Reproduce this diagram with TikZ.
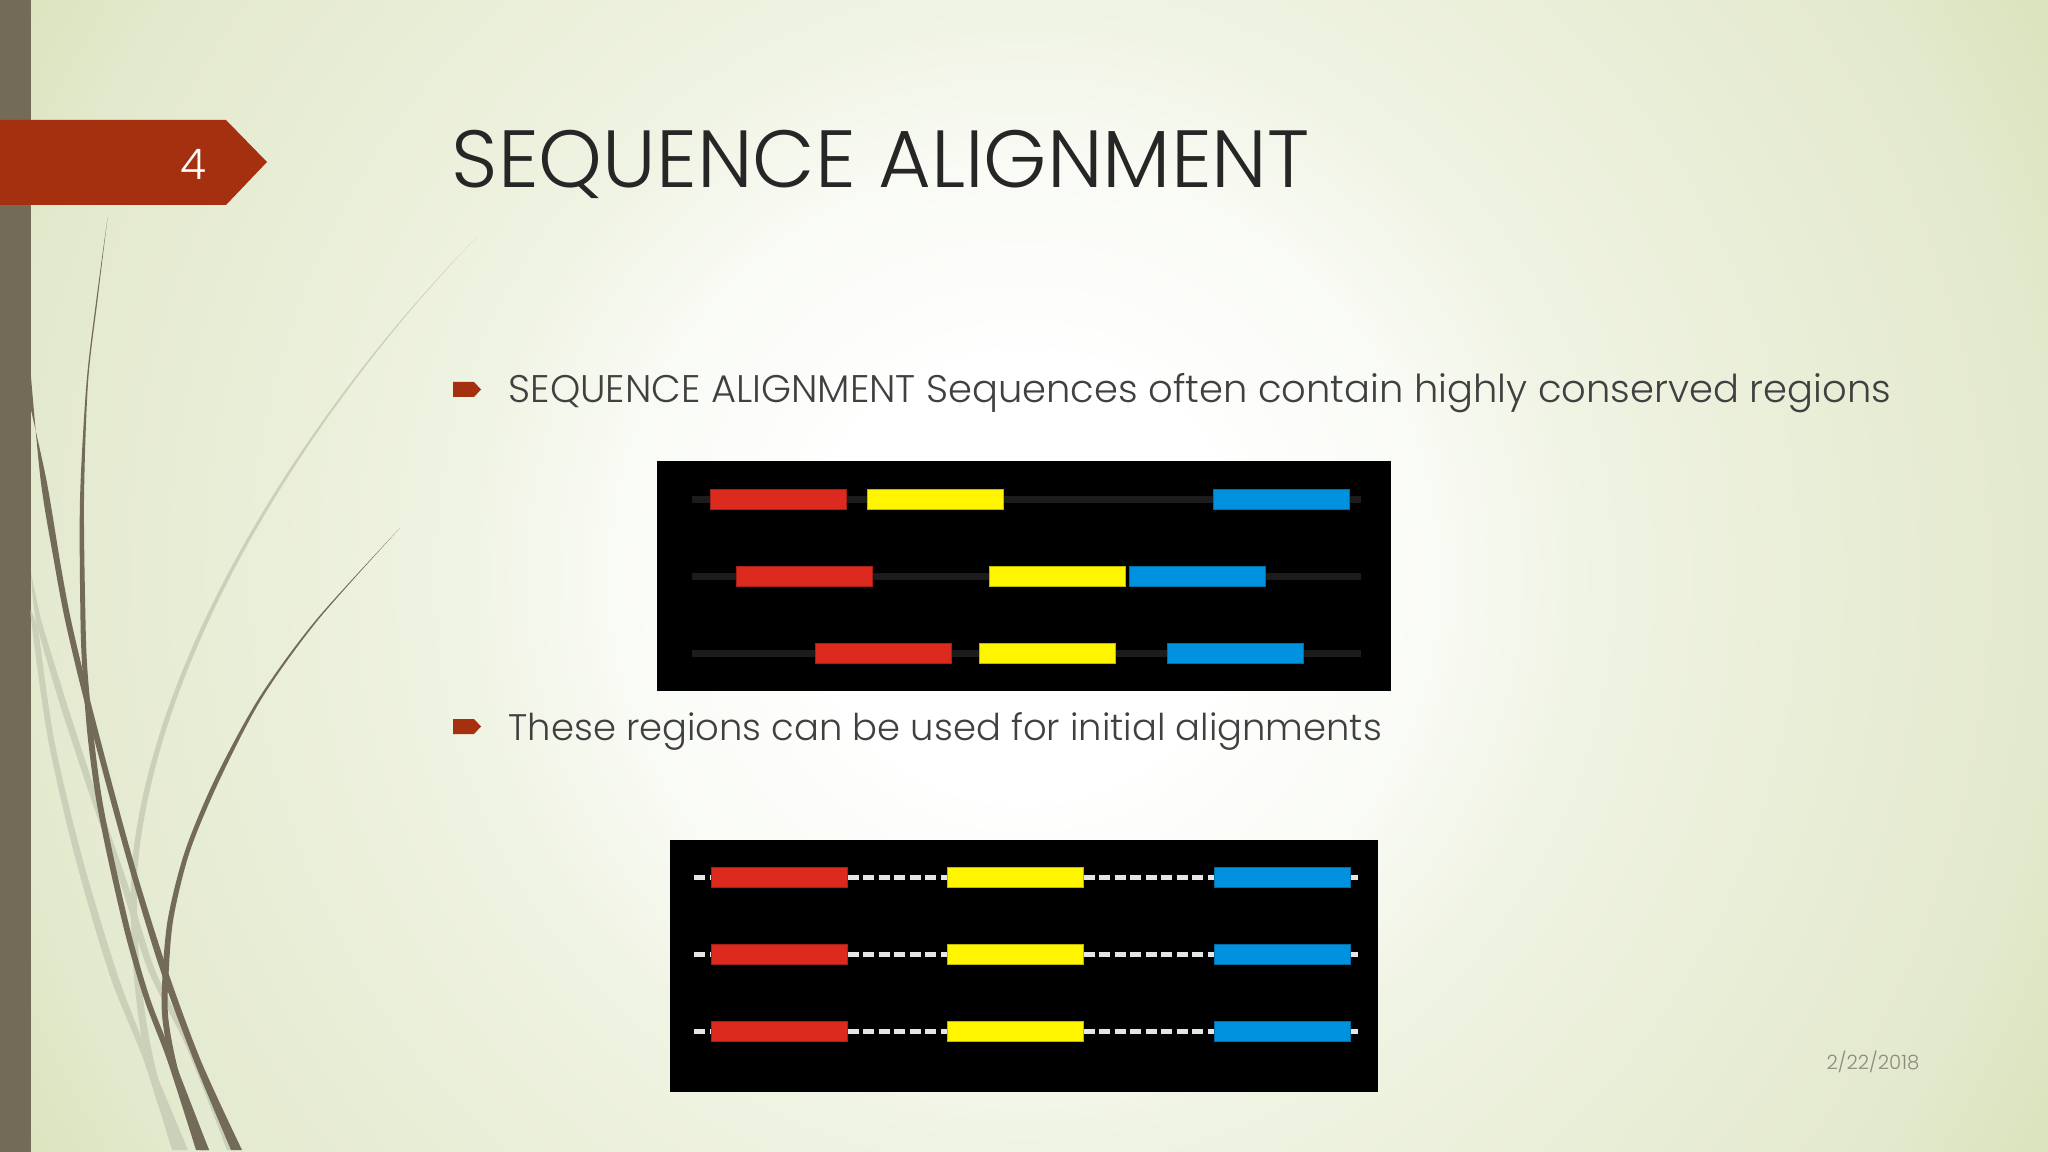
\documentclass[tikz,border=0pt]{standalone}
\usepackage{fontspec}
\setmainfont{Poppins}[UprightFont=* Light]
\definecolor{bgone}{HTML}{F9FBF5}
\definecolor{bgmid}{HTML}{EFF3E2}
\definecolor{bgedge}{HTML}{E3E9CD}
\definecolor{bgcorner}{HTML}{D9E2BA}
\definecolor{tagred}{HTML}{A5300F}
\definecolor{stemdark}{HTML}{736B58}
\definecolor{stemlight}{HTML}{CBD0B8}
\definecolor{barred}{HTML}{DC2A1E}
\definecolor{baryellow}{HTML}{FFF500}
\definecolor{barblue}{HTML}{0092DE}
\definecolor{datetext}{HTML}{8B8B78}
\pgfdeclareradialshading{slidebg}{\pgfpoint{0bp}{0bp}}{color(0bp)=(white); color(5bp)=(white); color(10bp)=(bgone); color(14bp)=(bgmid); color(25bp)=(bgedge); color(29bp)=(bgcorner); color(50bp)=(bgcorner)}
\tikzset{
	bar/.style={draw=#1!75!black,line width=0.3pt,fill=#1,minimum width=1.36cm,minimum height=0.2cm,inner sep=0pt,anchor=west},
	darkline/.style={line width=0.065cm,draw=black!89!white},
	dashline/.style={line width=0.045cm,draw=white!90!black,dash pattern=on 0.11cm off 0.045cm},
	bodytext/.style={anchor=base west,inner sep=0pt,text=black!75}
}
\begin{document}
\begin{tikzpicture}[x=0.01cm,y=-0.01cm]
	\useasboundingbox (0,0) rectangle (2048,1152);
	\begin{scope}
		\clip (0,0) rectangle (2048,1152);
		\shade[shading=slidebg,shading angle=0] (0,-448) rectangle (2048,1600);
	\end{scope}
	\fill[stemdark] (0,0) rectangle (31,1152);

	% light stems
	\fill[stemlight] (478,236) .. controls (330,385) and (150,640) .. (131,874) .. controls (129,960) and (138,1050) .. (160,1110) -- (168,1110) .. controls (146,1050) and (135,960) .. (137,874) .. controls (155,640) and (332,386) .. (478,236) -- cycle;
	\fill[stemlight] plot[smooth] coordinates {(31,573) (36,620) (58,698) (88,790) (121,885) (148,970) (185,1044) (227,1150)} -- plot[smooth] coordinates {(235,1150) (191,1044) (155,970) (128,885) (95,790) (65,698) (41,620)} -- cycle;
	\fill[stemlight] plot[smooth] coordinates {(31,610) (32,627) (48,739) (75,857) (110,976) (144,1061) (172,1150)} -- plot[smooth] coordinates {(188,1150) (151,1061) (118,976) (82,857) (54,739) (38,627)} -- cycle;

	% dark stems
	\fill[stemdark] plot[smooth] coordinates {(107.7,216.7) (96.3,300) (86.5,383) (80,500) (80.5,620) (82.5,671) (87.5,735) (95.5,796) (107.5,857) (125.5,935) (144.5,1000) (167.5,1061) (196,1150)} -- plot[smooth] coordinates {(209,1150) (174.5,1061) (150.5,1000) (131.5,935) (113.5,857) (101.5,796) (93.5,735) (87.5,671) (85.5,620) (84,500) (88,383) (97.5,300) (107.7,216.7)} -- cycle;
	\fill[stemdark] plot[smooth] coordinates {(31,377) (41,483) (55,567) (65,620) (81,688) (105,780) (131,874) (160,969) (194,1061) (231,1150)} -- plot[smooth] coordinates {(242,1150) (201,1061) (167,969) (137,874) (111,780) (87,688) (71,620) (61,567) (47,483) (31,410)} -- cycle;
	\fill[stemdark] plot[smooth] coordinates {(400,528) (316,620) (259,698) (215,779) (185,851) (168,918) (162.5,976) (162.5,1020) (174,1078) (200,1150)} -- plot[smooth] coordinates {(209,1150) (180.5,1078) (168.5,1020) (168.5,976) (173.5,918) (190,851) (220,779) (262,698) (318,620) (400,528)} -- cycle;

	% tag and title
	\fill[tagred] (0,120) -- (226,120) -- (267,162) -- (226,205) -- (0,205) -- cycle;
	\node[text=white,font=\fontsize{12}{15}\selectfont] (pagenum) at (193,164) {4};
	\node[anchor=base west,inner sep=0pt,text=black!85,font=\fontsize{23.05}{28}\selectfont] (title) at (451,188) {SEQUENCE ALIGNMENT};

	% bullets
	\fill[tagred] (453,382) -- (474,382) -- (481,389.5) -- (474,397) -- (453,397) -- cycle;
	\fill[tagred] (453,719) -- (474,719) -- (481,726.5) -- (474,734) -- (453,734) -- cycle;
	\node[bodytext,font=\fontsize{10.94}{13}\selectfont] (lineone) at (508,403) {SEQUENCE ALIGNMENT Sequences often contain highly conserved regions};
	\node[bodytext,font=\fontsize{10.5}{13}\selectfont] (linetwo) at (508,740) {These regions can be used for initial alignments};
	\node[anchor=base west,inner sep=0pt,text=datetext,font=\fontsize{5.6}{7}\selectfont] (date) at (1826,1069) {2/22/2018};

	% upper picture
	\fill[black] (657,461) rectangle (1391,691);
	\coordinate (startA) at (692,499.7);
	\coordinate (endA) at (1361,499.7);
	\coordinate (startB) at (692,576.7);
	\coordinate (endB) at (1361,576.7);
	\coordinate (startC) at (692,653.7);
	\coordinate (endC) at (1361,653.7);
	\node[bar=barred] (redA) at (710,499.7) {};
	\node[bar=baryellow] (yellowA) at (866.5,499.7) {};
	\node[bar=barblue] (blueA) at (1212.7,499.7) {};
	\node[bar=barred] (redB) at (735.6,576.7) {};
	\node[bar=baryellow] (yellowB) at (989,576.7) {};
	\node[bar=barblue] (blueB) at (1128.5,576.7) {};
	\node[bar=barred] (redC) at (814.6,653.7) {};
	\node[bar=baryellow] (yellowC) at (979.3,653.7) {};
	\node[bar=barblue] (blueC) at (1166.7,653.7) {};
	\draw[darkline] (startA) -- (redA);
	\draw[darkline] (redA) -- (yellowA);
	\draw[darkline] (yellowA) -- (blueA);
	\draw[darkline] (blueA) -- (endA);
	\draw[darkline] (startB) -- (redB);
	\draw[darkline] (redB) -- (yellowB);
	\draw[darkline] (blueB) -- (endB);
	\draw[darkline] (startC) -- (redC);
	\draw[darkline] (redC) -- (yellowC);
	\draw[darkline] (yellowC) -- (blueC);
	\draw[darkline] (blueC) -- (endC);

	% lower picture
	\fill[black] (670,840) rectangle (1378,1092);
	\coordinate (startD) at (694,877.3);
	\coordinate (endD) at (1358,877.3);
	\coordinate (startE) at (694,954.7);
	\coordinate (endE) at (1358,954.7);
	\coordinate (startF) at (694,1031.7);
	\coordinate (endF) at (1358,1031.7);
	\node[bar=barred] (redD) at (710.5,877.3) {};
	\node[bar=baryellow] (yellowD) at (946.5,877.3) {};
	\node[bar=barblue] (blueD) at (1213.5,877.3) {};
	\node[bar=barred] (redE) at (710.5,954.7) {};
	\node[bar=baryellow] (yellowE) at (946.5,954.7) {};
	\node[bar=barblue] (blueE) at (1213.5,954.7) {};
	\node[bar=barred] (redF) at (710.5,1031.7) {};
	\node[bar=baryellow] (yellowF) at (946.5,1031.7) {};
	\node[bar=barblue] (blueF) at (1213.5,1031.7) {};
	\draw[dashline] (startD) -- (redD);
	\draw[dashline] (redD) -- (yellowD);
	\draw[dashline] (yellowD) -- (blueD);
	\draw[dashline] (blueD) -- (endD);
	\draw[dashline] (startE) -- (redE);
	\draw[dashline] (redE) -- (yellowE);
	\draw[dashline] (yellowE) -- (blueE);
	\draw[dashline] (blueE) -- (endE);
	\draw[dashline] (startF) -- (redF);
	\draw[dashline] (redF) -- (yellowF);
	\draw[dashline] (yellowF) -- (blueF);
	\draw[dashline] (blueF) -- (endF);
\end{tikzpicture}
\end{document}
